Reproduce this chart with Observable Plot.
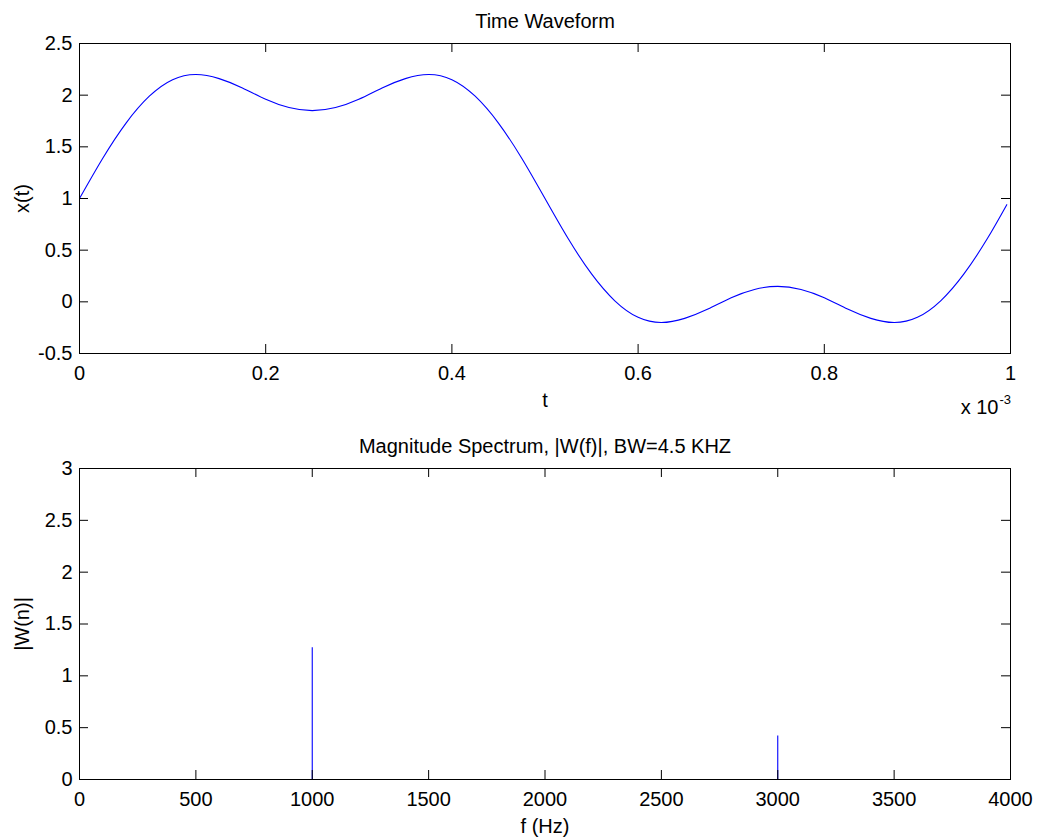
<!DOCTYPE html>
<html>
<head>
<meta charset="utf-8">
<script src="https://cdn.jsdelivr.net/npm/d3@7"></script>
<script src="https://cdn.jsdelivr.net/npm/@observablehq/plot@0.6"></script>
<style>
  html, body { margin: 0; padding: 0; background: #fff; }
  #chart { width: 1046px; height: 840px; }
  #chart svg { display: block; }
</style>
</head>
<body>
<div id="chart"></div>
<script>
// ---- Data ----
// Time waveform: t in units of 1e-3 s, x(t)
const timeMs = [0, 0.025, 0.05, 0.075, 0.1, 0.125, 0.15, 0.175, 0.2, 0.225,
  0.25, 0.275, 0.3, 0.325, 0.35, 0.375, 0.4, 0.425, 0.45, 0.475,
  0.5, 0.525, 0.55, 0.575, 0.6, 0.625, 0.65, 0.675, 0.7, 0.725,
  0.75, 0.775, 0.8, 0.825, 0.85, 0.875, 0.9, 0.925, 0.95, 0.975, 0.996];
const waveValues = [1.00, 1.39, 1.73, 1.99, 2.15, 2.20, 2.16, 2.07, 1.96, 1.88,
  1.85, 1.88, 1.96, 2.07, 2.16, 2.20, 2.15, 1.99, 1.73, 1.39,
  1.00, 0.61, 0.27, 0.01, -0.15, -0.20, -0.16, -0.07, 0.04, 0.12,
  0.15, 0.12, 0.04, -0.07, -0.16, -0.20, -0.15, 0.01, 0.27, 0.61, 0.94];

// Magnitude spectrum lines
const specFreqs = [1000, 3000];
const specMags = [1.27, 0.42];

// Tick labels
const topXTicks = [0, 0.2, 0.4, 0.6, 0.8, 1];
const topYTicks = [-0.5, 0, 0.5, 1, 1.5, 2, 2.5];
const botXTicks = [0, 500, 1000, 1500, 2000, 2500, 3000, 3500, 4000];
const botYTicks = [0, 0.5, 1, 1.5, 2, 2.5, 3];

// Texts
const topTitle = "Time Waveform";
const topXLabel = "t";
const topYLabel = "x(t)";
const topXMultiplier = "x 10";
const topXExponent = "-3";
const botTitle = "Magnitude Spectrum, |W(f)|, BW=4.5 KHZ";
const botXLabel = "f (Hz)";
const botYLabel = "|W(n)|";

// ---- Build tables ----
const wave = timeMs.map((t, i) => ({t, v: waveValues[i]}));
const spec = specFreqs.map((f, i) => ({f, m: specMags[i]}));

const W = 1046;
const ML = 79, MR = 36;
const FW = W - ML - MR;
const TICK = 9;
const fontStyle = {
  fontFamily: "'Liberation Sans', Arial, Helvetica, sans-serif",
  fontSize: "20px",
  background: "white",
  color: "black",
  overflow: "visible"
};
const fmt = d => String(d);
const LINE = "#0000ff";

function inwardTicks(xTicks, yTicks, FH) {
  return [
    Plot.tickY(yTicks, {y: d => d, insetRight: FW - TICK, stroke: "#000"}),
    Plot.tickY(yTicks, {y: d => d, insetLeft: FW - TICK, stroke: "#000"}),
    Plot.tickX(xTicks, {x: d => d, insetTop: FH - TICK, stroke: "#000"}),
    Plot.tickX(xTicks, {x: d => d, insetBottom: FH - TICK, stroke: "#000"})
  ];
}

// ---- Top subplot ----
const topH = 420, topMT = 43, topMB = 67;
const topFH = topH - topMT - topMB;
const topPlot = Plot.plot({
  width: W, height: topH,
  marginLeft: ML, marginRight: MR, marginTop: topMT, marginBottom: topMB,
  style: fontStyle,
  x: {domain: [0, 1]},
  y: {domain: [-0.5, 2.5]},
  marks: [
    Plot.line(wave, {x: "t", y: "v", stroke: LINE, strokeWidth: 1.1, curve: "natural"}),
    Plot.frame({stroke: "#000"}),
    ...inwardTicks(topXTicks, topYTicks, topFH),
    Plot.axisY(topYTicks, {anchor: "left", tickSize: 0, tickPadding: 7, tickFormat: fmt, label: null}),
    Plot.axisX(topXTicks, {anchor: "bottom", tickSize: 0, tickPadding: 12, tickFormat: fmt, label: null}),
    Plot.text([topTitle], {frameAnchor: "top", dy: -16, lineAnchor: "bottom", textAnchor: "middle", fill: "#000"}),
    Plot.text([topXLabel], {frameAnchor: "bottom", dy: 53, lineAnchor: "bottom", textAnchor: "middle", fill: "#000"}),
    Plot.text([topXMultiplier], {frameAnchor: "bottom-right", dx: -12, dy: 60, lineAnchor: "bottom", textAnchor: "end", fill: "#000"}),
    Plot.text([topXExponent], {frameAnchor: "bottom-right", dx: -11, dy: 50, lineAnchor: "bottom", textAnchor: "start", fontSize: 13, fill: "#000"}),
    Plot.text([topYLabel], {frameAnchor: "left", dx: -51, rotate: -90, lineAnchor: "bottom", textAnchor: "middle", fill: "#000"})
  ]
});

// ---- Bottom subplot ----
const botH = 420, botMT = 48, botMB = 61;
const botFH = botH - botMT - botMB;
const bottomPlot = Plot.plot({
  width: W, height: botH,
  marginLeft: ML, marginRight: MR, marginTop: botMT, marginBottom: botMB,
  style: fontStyle,
  x: {domain: [0, 4000]},
  y: {domain: [0, 3]},
  marks: [
    Plot.ruleX(spec, {x: "f", y: "m", stroke: LINE, strokeWidth: 1.1}),
    Plot.frame({stroke: "#000"}),
    ...inwardTicks(botXTicks, botYTicks, botFH),
    Plot.axisY(botYTicks, {anchor: "left", tickSize: 0, tickPadding: 7, tickFormat: fmt, label: null}),
    Plot.axisX(botXTicks, {anchor: "bottom", tickSize: 0, tickPadding: 12, tickFormat: fmt, label: null}),
    Plot.text([botTitle], {frameAnchor: "top", dy: -16, lineAnchor: "bottom", textAnchor: "middle", fill: "#000"}),
    Plot.text([botXLabel], {frameAnchor: "bottom", dy: 53, lineAnchor: "bottom", textAnchor: "middle", fill: "#000"}),
    Plot.text([botYLabel], {frameAnchor: "left", dx: -51, rotate: -90, lineAnchor: "bottom", textAnchor: "middle", fill: "#000"})
  ]
});

const chart = document.getElementById("chart");
chart.appendChild(topPlot);
chart.appendChild(bottomPlot);
</script>
</body>
</html>
